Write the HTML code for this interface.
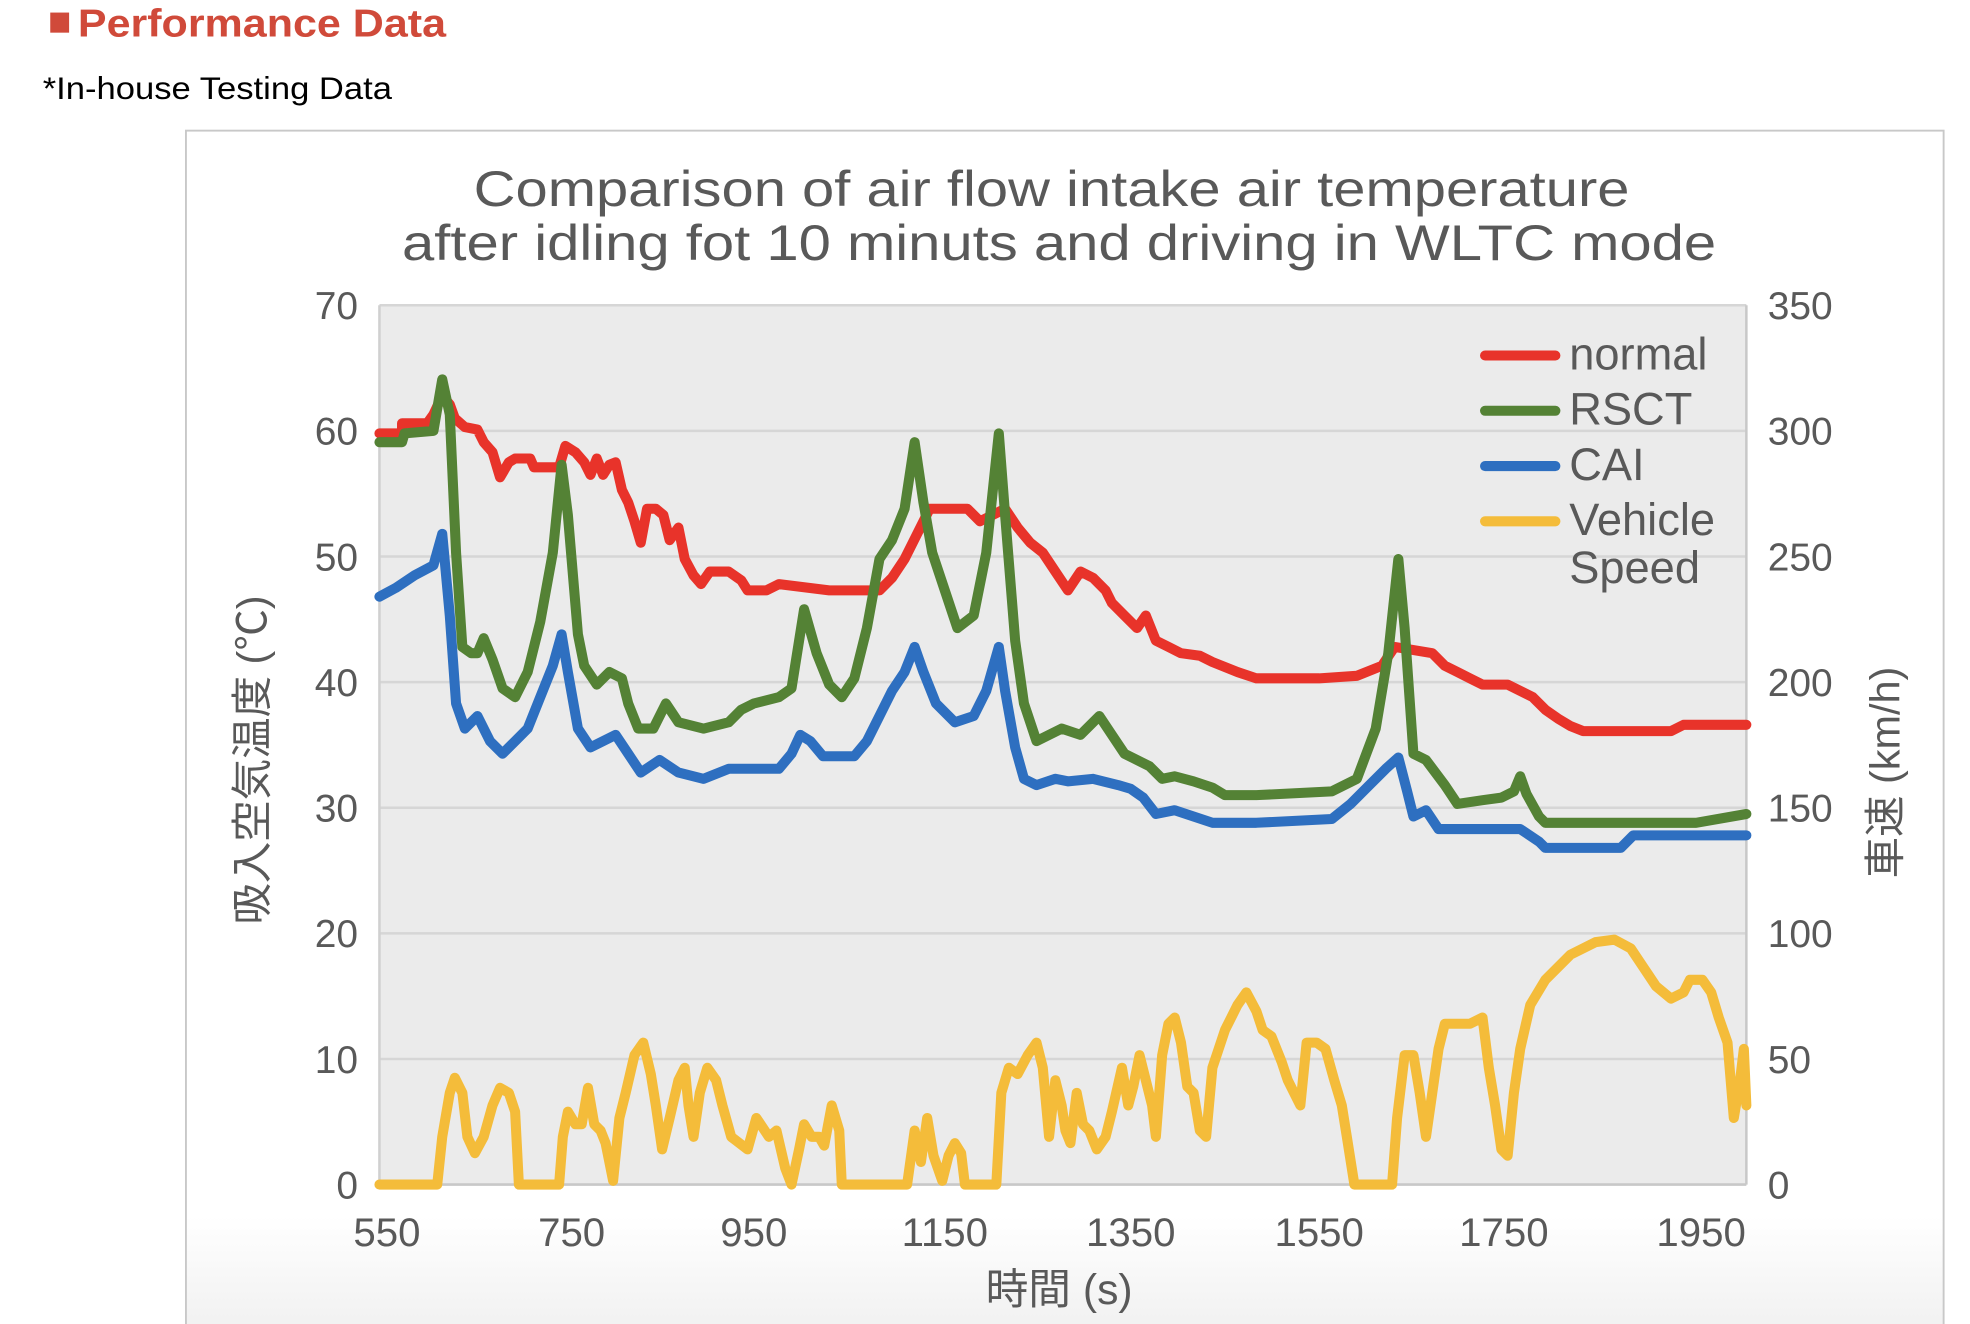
<!DOCTYPE html>
<html><head><meta charset="utf-8"><style>
html,body{margin:0;padding:0;background:#fff;}
svg{display:block;}
text{font-family:"Liberation Sans","Noto Sans CJK JP",sans-serif;}
</style></head><body>
<svg width="1970" height="1324" viewBox="0 0 1568 1054" preserveAspectRatio="none" xmlns="http://www.w3.org/2000/svg">
<defs><linearGradient id="bg" x1="0" y1="0" x2="0" y2="1"><stop offset="0.9" stop-color="#fff"/><stop offset="1" stop-color="#f0f0f0"/></linearGradient></defs>
<rect x="0" y="0" width="1568" height="1054" fill="#fff"/>
<rect x="40" y="10" width="15" height="16" fill="#d04a3a"/>
<text x="62" y="29" font-size="31" font-weight="bold" fill="#d04a3a" textLength="293" lengthAdjust="spacingAndGlyphs">Performance Data</text>
<text x="34" y="79" font-size="25" fill="#000" textLength="278" lengthAdjust="spacingAndGlyphs">*In-house Testing Data</text>
<rect x="148" y="104" width="1399" height="960" fill="url(#bg)" stroke="#c8c8c8" stroke-width="1.5"/>
<text x="377" y="164" font-size="40" fill="#595959" textLength="920" lengthAdjust="spacingAndGlyphs">Comparison of air flow intake air temperature</text>
<text x="320" y="207" font-size="40" fill="#595959" textLength="1046" lengthAdjust="spacingAndGlyphs">after idling fot 10 minuts and driving in WLTC mode</text>
<rect x="302" y="243" width="1088" height="700" fill="#ebebeb"/>
<g stroke="#d6d6d6" stroke-width="2">
<line x1="302" y1="243" x2="1390" y2="243"/><line x1="302" y1="343" x2="1390" y2="343"/><line x1="302" y1="443" x2="1390" y2="443"/><line x1="302" y1="543" x2="1390" y2="543"/><line x1="302" y1="643" x2="1390" y2="643"/><line x1="302" y1="743" x2="1390" y2="743"/><line x1="302" y1="843" x2="1390" y2="843"/>
</g>
<line x1="302" y1="243" x2="302" y2="943" stroke="#d0d0d0" stroke-width="2"/>
<line x1="1390" y1="243" x2="1390" y2="943" stroke="#c8c8c8" stroke-width="2"/>
<line x1="302" y1="943" x2="1390" y2="943" stroke="#c8c8c8" stroke-width="2"/>
<g font-size="31" fill="#595959" text-anchor="end">
<text x="285" y="254">70</text><text x="285" y="354">60</text><text x="285" y="454">50</text><text x="285" y="554">40</text><text x="285" y="654">30</text><text x="285" y="754">20</text><text x="285" y="854">10</text><text x="285" y="954">0</text>
</g>
<g font-size="31" fill="#595959" text-anchor="start">
<text x="1407" y="254">350</text><text x="1407" y="354">300</text><text x="1407" y="454">250</text><text x="1407" y="554">200</text><text x="1407" y="654">150</text><text x="1407" y="754">100</text><text x="1407" y="854">50</text><text x="1407" y="954">0</text>
</g>
<g font-size="32" fill="#595959" text-anchor="middle">
<text x="308" y="992">550</text><text x="455" y="992">750</text><text x="600" y="992">950</text><text x="752" y="992">1150</text><text x="900" y="992">1350</text><text x="1050" y="992">1550</text><text x="1197" y="992">1750</text><text x="1354" y="992">1950</text>
</g>
<text x="843" y="1038" font-size="34" fill="#595959" text-anchor="middle">時間 (s)</text>
<text transform="translate(212,605) rotate(-90)" font-size="33" fill="#595959" text-anchor="middle">吸入空気温度 (℃)</text>
<text transform="translate(1512,615) rotate(-90)" font-size="33" fill="#595959" text-anchor="middle">車速 (km/h)</text>
<g fill="none" stroke-width="8" stroke-linejoin="round" stroke-linecap="round">
<polyline stroke="#f4bc3a" points="302,943 348,943 352,905 358,870 362,858 368,870 372,905 378,918 385,905 392,880 398,866 405,870 410,885 413,943 445,943 448,905 452,885 458,895 463,895 468,866 473,895 478,900 482,910 488,940 493,890 498,870 505,840 512,830 518,855 522,880 527,915 533,890 540,860 545,850 548,880 552,905 557,870 563,850 570,860 575,880 582,905 595,915 602,890 612,905 618,900 625,930 630,943 636,915 640,895 646,905 652,905 656,912 662,880 668,900 670,943 722,943 728,900 733,925 738,890 743,920 750,940 755,920 760,910 765,918 768,943 793,943 797,870 803,850 810,855 818,840 825,830 830,850 835,905 840,860 845,880 848,900 852,910 857,870 862,895 867,900 873,915 880,905 885,885 893,850 898,880 902,865 907,840 912,860 917,880 920,905 925,840 930,815 935,810 940,830 945,865 950,870 955,900 960,905 965,850 975,820 985,800 992,790 1000,805 1005,820 1012,825 1020,845 1025,860 1030,870 1035,880 1040,830 1048,830 1055,835 1062,860 1068,880 1072,905 1078,943 1108,943 1112,890 1118,840 1125,840 1130,870 1135,905 1140,870 1145,835 1150,815 1160,815 1170,815 1180,810 1185,850 1190,880 1195,915 1200,920 1205,870 1210,835 1218,800 1230,780 1250,760 1270,750 1285,748 1298,755 1308,770 1318,785 1330,795 1340,790 1345,780 1355,780 1362,790 1368,810 1375,830 1380,890 1385,860 1388,835 1390,880"/>
<polyline stroke="#e8332a" points="302,345 320,345 320,337 340,337 345,330 352,315 358,322 362,333 370,340 380,342 385,352 392,360 398,380 405,368 410,365 422,365 425,372 445,372 450,355 458,360 465,368 470,378 475,365 480,378 485,370 490,368 495,390 500,400 505,415 510,432 515,405 522,405 528,410 533,430 540,420 545,445 552,458 558,465 565,455 580,455 590,462 595,470 610,470 620,465 660,470 700,470 710,460 720,445 730,425 740,405 770,405 780,415 800,405 810,420 820,432 830,440 840,455 850,470 860,455 870,460 880,470 885,480 895,490 905,500 912,490 920,510 930,515 940,520 955,522 965,527 985,535 1000,540 1050,540 1080,538 1100,530 1110,515 1140,520 1150,530 1160,535 1170,540 1180,545 1200,545 1210,550 1220,555 1230,565 1240,572 1250,578 1260,582 1330,582 1340,577 1390,577"/>
<polyline stroke="#548235" points="302,352 320,352 322,345 345,343 352,302 358,330 363,440 368,515 375,520 380,520 385,508 392,525 400,548 410,555 420,535 430,495 440,440 447,370 452,410 460,505 465,530 475,545 485,535 495,540 500,560 508,580 520,580 530,560 540,575 560,580 580,575 590,565 600,560 620,555 630,548 640,485 650,520 660,545 670,555 680,540 690,500 700,445 710,430 720,405 728,352 735,400 742,440 752,470 762,500 775,490 785,440 795,345 800,410 808,510 815,560 825,590 835,585 845,580 860,585 875,570 885,585 895,600 905,605 915,610 925,620 935,618 950,622 965,627 975,633 1000,633 1060,630 1080,620 1095,580 1105,520 1113,445 1118,500 1125,600 1135,605 1150,625 1160,640 1180,637 1195,635 1205,630 1210,618 1215,632 1225,650 1230,655 1350,655 1390,648"/>
<polyline stroke="#2e6fc0" points="302,475 315,468 330,458 345,450 352,425 358,490 363,560 370,580 380,570 390,590 400,600 410,590 420,580 430,555 440,530 447,505 452,535 460,580 470,595 480,590 490,585 500,600 510,615 525,605 540,615 560,620 580,612 620,612 630,600 637,585 645,590 655,602 680,602 690,590 700,570 710,550 720,535 728,515 735,535 745,560 760,575 775,570 785,550 795,515 800,550 808,595 815,620 825,625 840,620 850,622 870,620 890,625 900,628 910,635 920,648 935,645 950,650 965,655 1000,655 1060,652 1075,640 1090,625 1103,612 1113,603 1120,630 1125,650 1135,645 1145,660 1210,660 1225,670 1230,675 1290,675 1300,665 1390,665"/>
</g>
<g stroke-width="8" stroke-linecap="round">
<line x1="1182" y1="283" x2="1238" y2="283" stroke="#e8332a"/>
<line x1="1182" y1="327" x2="1238" y2="327" stroke="#548235"/>
<line x1="1182" y1="371" x2="1238" y2="371" stroke="#2e6fc0"/>
<line x1="1182" y1="415" x2="1238" y2="415" stroke="#f4bc3a"/>
</g>
<g font-size="36" fill="#595959">
<text x="1249" y="294">normal</text><text x="1249" y="338">RSCT</text><text x="1249" y="382">CAI</text><text x="1249" y="426">Vehicle</text><text x="1249" y="464">Speed</text>
</g>
</svg>
</body></html>
